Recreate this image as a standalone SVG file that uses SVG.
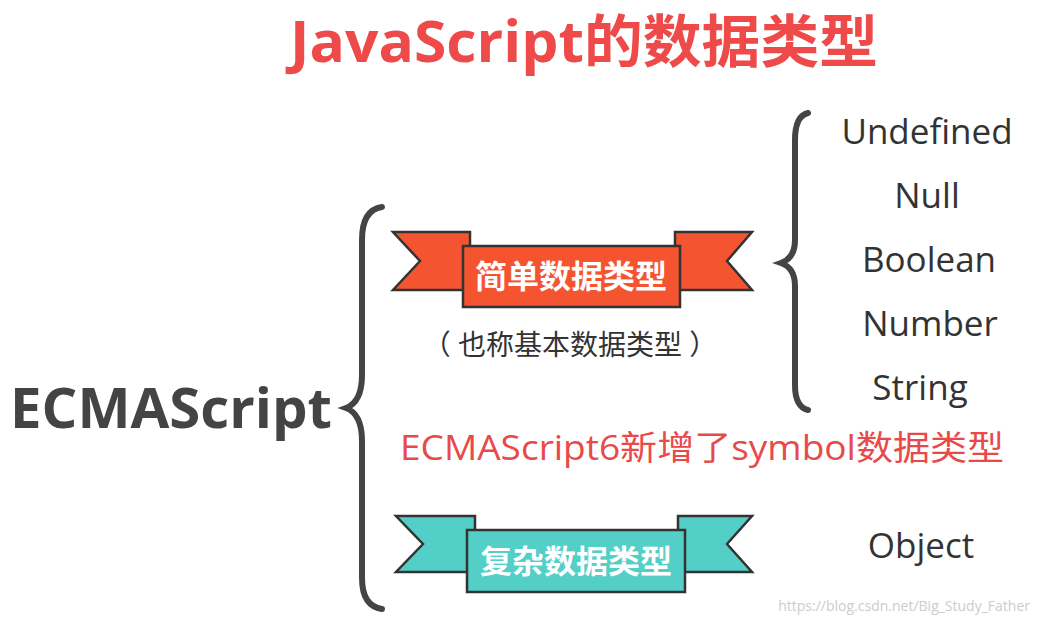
<svg xmlns="http://www.w3.org/2000/svg" width="1044" height="624" viewBox="0 0 1044 624">
<style>
.t{font-family:"Open Sans","Noto Sans CJK SC",sans-serif}
.title{font-size:57px;font-weight:bold;fill:#ee4a4a}
.list{font-size:35px;fill:#333;text-anchor:middle}
.rib{stroke:#333;stroke-width:2.5;stroke-linejoin:miter}
.rt{font-size:32px;font-weight:bold;fill:#fff;text-anchor:middle}
.brace{fill:none;stroke:#444;stroke-width:6;stroke-linecap:round}
</style>
<rect width="1044" height="624" fill="#fff"/>
<text class="t title" x="584" y="62" text-anchor="middle" textLength="588" lengthAdjust="spacingAndGlyphs">JavaScript的数据类型</text>
<g id="ecma"><text class="t" x="10" y="428" font-size="55" font-weight="bold" fill="#444" textLength="322" lengthAdjust="spacingAndGlyphs">ECMAScript</text></g>
<g id="connectors">
<path class="brace" d="M382,207 Q362,210 362,240 L362,375 Q362,402 346,408 Q362,414 362,441 L362,578 Q362,606 382,609"/>
<path class="brace" d="M808,113 Q795,116 795,140 L795,240 Q795,258 781,263 Q795,268 795,286 L795,385 Q795,407 808,410"/>
</g>
<g id="simple">
<polygon class="rib" points="393,232 470,232 470,290 393,290 420,261" fill="#f45530"/>
<polygon class="rib" points="752,232 675,232 675,290 752,290 727,261" fill="#f45530"/>
<rect class="rib" x="463" y="246" width="217" height="61" fill="#f45530"/>
<text class="t rt" x="571" y="288">简单数据类型</text>
</g>
<g id="note"><text class="t" x="570" y="355" font-size="28" fill="#333" text-anchor="middle">（ 也称基本数据类型 ）</text></g>
<g id="complex">
<polygon class="rib" points="396,516 475,516 475,572 396,572 423,544" fill="#54cfc8"/>
<polygon class="rib" points="752,516 678,516 678,572 752,572 727,544" fill="#54cfc8"/>
<rect class="rib" x="467" y="530" width="218" height="62" fill="#54cfc8"/>
<text class="t rt" x="576" y="573">复杂数据类型</text>
</g>
<g id="types">
<text class="t list" x="927" y="144">Undefined</text>
<text class="t list" x="927" y="208">Null</text>
<text class="t list" x="929" y="272">Boolean</text>
<text class="t list" x="930" y="336">Number</text>
<text class="t list" x="920" y="400">String</text>
<text class="t list" x="921" y="558">Object</text>
</g>
<g id="es6"><text class="t" x="702" y="460" font-size="34" fill="#e84a4a" text-anchor="middle" textLength="604" lengthAdjust="spacingAndGlyphs">ECMAScript6新增了symbol数据类型</text></g>
<text class="t" x="1030" y="611" font-size="14" fill="#ccc" text-anchor="end" font-family="Liberation Sans,sans-serif">https://blog.csdn.net/Big_Study_Father</text>
</svg>
